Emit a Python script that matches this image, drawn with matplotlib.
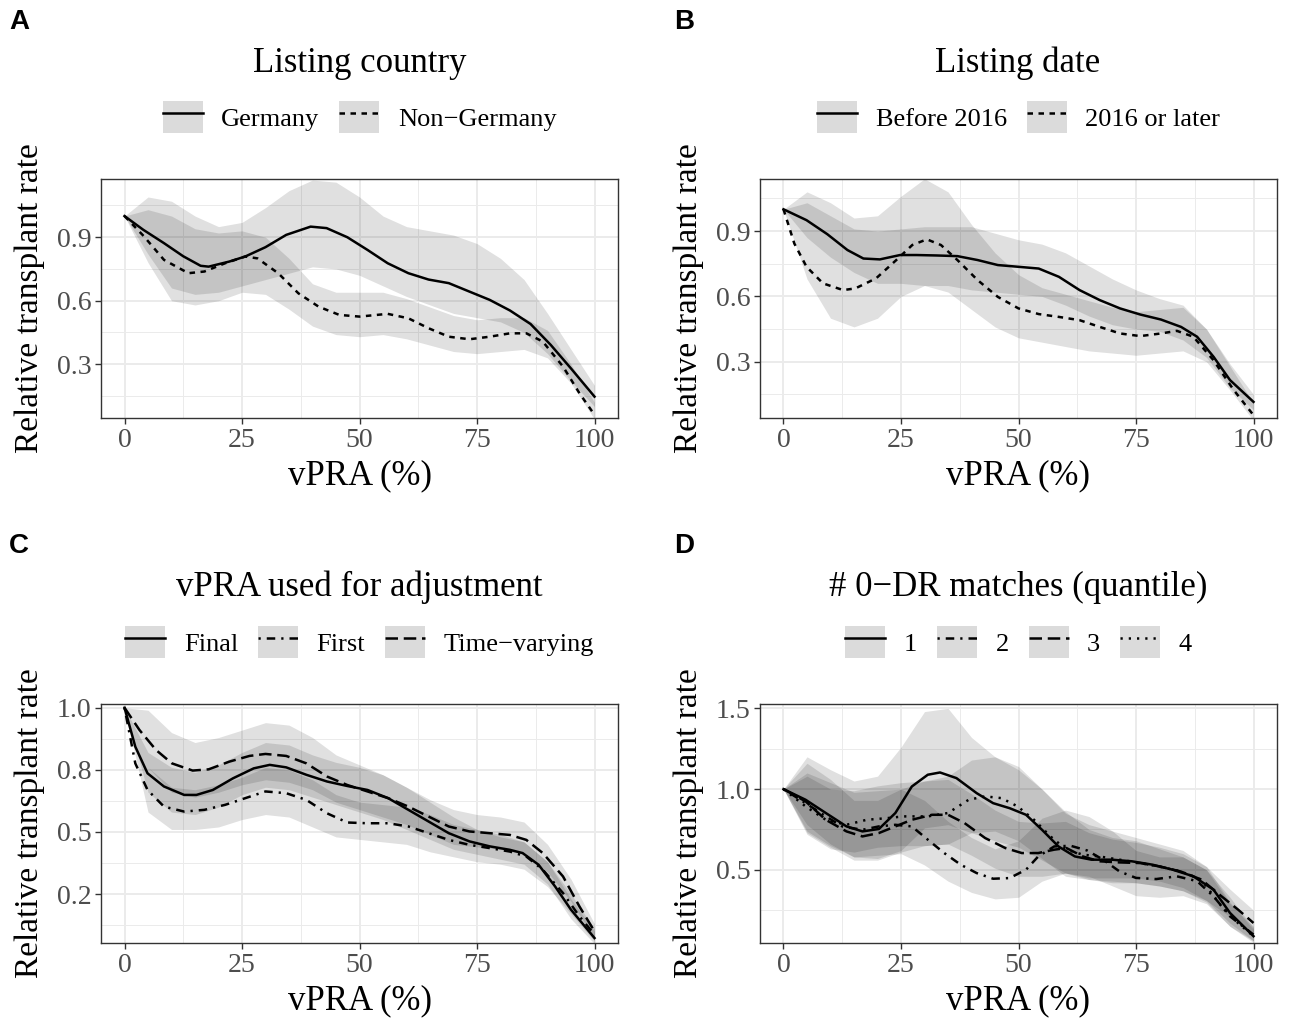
import matplotlib
matplotlib.use('Agg')
import matplotlib.pyplot as plt
from matplotlib.patches import Patch
from matplotlib.lines import Line2D

plt.rcParams['font.family'] = ['Liberation Serif', 'DejaVu Serif']

# ---------------- data ----------------
band_x = [0, 5, 10, 15, 20, 25, 30, 35, 40, 45, 50, 55, 60, 65, 70, 75, 80, 85, 90, 95, 100]

# Panel A: Listing country
ger_x = [0, 4, 8.4, 12.5, 16.2, 17.9, 22.3, 25.7, 30, 34.4, 39.6, 43, 47.4, 51.7, 56, 60.4, 64.7, 69, 73.4, 77.7, 82, 86.4, 90.7, 95, 100]
ger_y = [1.0, 0.935, 0.872, 0.81, 0.765, 0.761, 0.785, 0.809, 0.853, 0.911, 0.95, 0.943, 0.9, 0.84, 0.777, 0.73, 0.70, 0.683, 0.643, 0.604, 0.554, 0.49, 0.391, 0.28, 0.147]
ger_lo = [1.0, 0.82, 0.66, 0.63, 0.64, 0.67, 0.70, 0.73, 0.76, 0.75, 0.72, 0.67, 0.62, 0.58, 0.54, 0.52, 0.50, 0.45, 0.35, 0.22, 0.10]
ger_hi = [1.0, 1.09, 1.07, 1.0, 0.95, 0.97, 1.04, 1.12, 1.17, 1.16, 1.09, 1.0, 0.95, 0.93, 0.91, 0.87, 0.80, 0.70, 0.54, 0.37, 0.20]

nong_x = [0, 4.1, 8.4, 13.6, 17, 21.4, 25.7, 28.3, 32.7, 37, 41.3, 45.7, 50, 56, 60.4, 64.7, 69, 73.4, 77.7, 82, 85.5, 89, 93.3, 96.8, 100]
nong_y = [1.0, 0.905, 0.793, 0.73, 0.738, 0.777, 0.809, 0.80, 0.73, 0.635, 0.572, 0.533, 0.525, 0.538, 0.517, 0.47, 0.43, 0.418, 0.43, 0.446, 0.446, 0.407, 0.289, 0.163, 0.061]
nong_lo = [1.0, 0.78, 0.60, 0.58, 0.60, 0.64, 0.63, 0.56, 0.48, 0.44, 0.43, 0.44, 0.42, 0.39, 0.36, 0.35, 0.36, 0.37, 0.33, 0.21, 0.04]
nong_hi = [1.0, 1.03, 1.0, 0.94, 0.92, 0.93, 0.90, 0.80, 0.68, 0.64, 0.64, 0.64, 0.61, 0.57, 0.53, 0.51, 0.52, 0.52, 0.46, 0.30, 0.12]

# Panel B: Listing date
bef_x = [0, 4.9, 9.3, 13.6, 17, 20.5, 24.8, 28.3, 32.6, 37, 41.3, 45.6, 50, 54.3, 58.6, 63, 67.3, 71.6, 75.9, 80.3, 84.6, 88, 91.5, 95, 100]
bef_y = [1.0, 0.95, 0.886, 0.813, 0.774, 0.77, 0.79, 0.79, 0.788, 0.785, 0.767, 0.744, 0.736, 0.728, 0.69, 0.629, 0.583, 0.545, 0.517, 0.494, 0.46, 0.415, 0.323, 0.216, 0.116]
bef_lo = [1.0, 0.87, 0.78, 0.71, 0.66, 0.66, 0.65, 0.65, 0.63, 0.62, 0.61, 0.60, 0.56, 0.51, 0.47, 0.45, 0.44, 0.40, 0.32, 0.18, 0.08]
bef_hi = [1.0, 1.03, 0.97, 0.91, 0.90, 0.91, 0.92, 0.92, 0.92, 0.89, 0.86, 0.84, 0.80, 0.74, 0.68, 0.63, 0.59, 0.56, 0.45, 0.29, 0.15]

aft_x = [0, 2.3, 4.9, 8.4, 12.7, 15.3, 19.7, 24, 27.4, 30.5, 33.5, 37, 41.3, 45.6, 50, 54.3, 58.6, 63, 67.3, 71.6, 75.9, 80.3, 83.7, 87.2, 91.5, 95.8, 100]
aft_y = [1.0, 0.843, 0.736, 0.66, 0.629, 0.637, 0.683, 0.767, 0.836, 0.862, 0.836, 0.767, 0.675, 0.598, 0.545, 0.519, 0.506, 0.491, 0.46, 0.43, 0.418, 0.43, 0.442, 0.415, 0.307, 0.17, 0.055]
aft_lo = [1.0, 0.68, 0.50, 0.46, 0.50, 0.60, 0.65, 0.62, 0.54, 0.46, 0.41, 0.39, 0.37, 0.35, 0.34, 0.33, 0.34, 0.35, 0.30, 0.17, 0.03]
aft_hi = [1.0, 1.08, 1.03, 0.96, 0.97, 1.06, 1.14, 1.08, 0.93, 0.80, 0.70, 0.64, 0.61, 0.58, 0.55, 0.53, 0.54, 0.55, 0.45, 0.28, 0.11]

# Panel C: vPRA used for adjustment
fin_x = [0, 2.3, 4.9, 8.4, 12.7, 15.3, 18.8, 23.1, 27.5, 30.9, 34.4, 38.7, 43.1, 47.4, 51.7, 56.1, 60.4, 64.7, 69, 73.4, 77.7, 82, 84.7, 88.1, 91.6, 95, 100]
fin_y = [1.0, 0.843, 0.736, 0.683, 0.649, 0.649, 0.669, 0.716, 0.756, 0.77, 0.76, 0.73, 0.703, 0.685, 0.669, 0.636, 0.589, 0.542, 0.495, 0.462, 0.442, 0.428, 0.415, 0.368, 0.281, 0.187, 0.073]
fin_lo = [1.0, 0.66, 0.58, 0.57, 0.60, 0.65, 0.68, 0.67, 0.64, 0.61, 0.58, 0.55, 0.51, 0.47, 0.43, 0.41, 0.39, 0.37, 0.29, 0.15, 0.05]
fin_hi = [1.0, 0.82, 0.76, 0.74, 0.77, 0.82, 0.86, 0.85, 0.81, 0.78, 0.76, 0.73, 0.68, 0.62, 0.56, 0.51, 0.48, 0.46, 0.38, 0.23, 0.10]

fst_x = [0, 2.3, 4.9, 8.4, 12.7, 17, 21.4, 25.7, 30, 34.4, 38.7, 43.1, 47.4, 51.7, 56.1, 60.4, 64.7, 69, 73.4, 77.7, 82, 85.5, 89, 93.3, 96.8, 100]
fst_y = [1.0, 0.776, 0.669, 0.602, 0.582, 0.589, 0.609, 0.636, 0.663, 0.656, 0.629, 0.575, 0.538, 0.535, 0.535, 0.522, 0.495, 0.468, 0.448, 0.435, 0.421, 0.401, 0.348, 0.254, 0.16, 0.087]
fst_lo = [1.0, 0.58, 0.51, 0.51, 0.52, 0.55, 0.57, 0.56, 0.52, 0.48, 0.47, 0.46, 0.45, 0.42, 0.40, 0.38, 0.37, 0.35, 0.28, 0.17, 0.06]
fst_hi = [1.0, 0.76, 0.68, 0.67, 0.69, 0.72, 0.76, 0.75, 0.71, 0.65, 0.62, 0.61, 0.60, 0.57, 0.53, 0.51, 0.49, 0.46, 0.38, 0.25, 0.11]

tv_x = [0, 3.2, 6.7, 10.1, 14.5, 17.9, 22.3, 26.6, 30, 34.4, 38.7, 43.1, 47.4, 51.7, 56.1, 60.4, 64.7, 69, 73.4, 77.7, 82, 85.5, 89, 93.3, 96.8, 100]
tv_y = [1.0, 0.91, 0.83, 0.776, 0.747, 0.752, 0.783, 0.806, 0.814, 0.806, 0.776, 0.723, 0.689, 0.663, 0.636, 0.602, 0.562, 0.522, 0.502, 0.495, 0.488, 0.468, 0.415, 0.321, 0.2, 0.1]
tv_lo = [1.0, 0.76, 0.66, 0.64, 0.66, 0.69, 0.71, 0.70, 0.67, 0.62, 0.59, 0.56, 0.53, 0.49, 0.45, 0.44, 0.43, 0.41, 0.34, 0.22, 0.07]
tv_hi = [1.0, 0.99, 0.90, 0.86, 0.88, 0.91, 0.94, 0.93, 0.88, 0.81, 0.77, 0.73, 0.68, 0.63, 0.59, 0.57, 0.56, 0.54, 0.45, 0.31, 0.13]

# Panel D: # 0-DR matches (quantile)
q1_x = [0, 4.7, 9, 13.4, 16.8, 20.3, 23.8, 27.3, 30.7, 33.3, 36.8, 41.1, 44.6, 48.1, 51.6, 55, 58.5, 62, 65.5, 69.8, 74.1, 78.5, 82.8, 87.2, 91.5, 95, 100]
q1_y = [1.0, 0.934, 0.852, 0.769, 0.738, 0.753, 0.852, 1.016, 1.089, 1.103, 1.068, 0.975, 0.913, 0.882, 0.841, 0.748, 0.645, 0.583, 0.563, 0.563, 0.553, 0.532, 0.501, 0.46, 0.377, 0.233, 0.089]
q1_lo = [1.0, 0.78, 0.66, 0.58, 0.57, 0.62, 0.76, 0.78, 0.73, 0.68, 0.64, 0.56, 0.48, 0.45, 0.45, 0.45, 0.43, 0.39, 0.31, 0.17, 0.06]
q1_hi = [1.0, 1.20, 1.12, 1.05, 1.08, 1.26, 1.48, 1.50, 1.32, 1.20, 1.12, 1.0, 0.86, 0.75, 0.70, 0.68, 0.63, 0.58, 0.50, 0.33, 0.14]

q2_x = [0, 4.7, 9, 12.5, 16.8, 20.3, 23.8, 27.3, 30.7, 34.2, 37.7, 41.1, 44.6, 48.1, 51.6, 54.2, 57.6, 61.1, 64.6, 68, 71.5, 75, 79.3, 83.7, 88, 91.5, 95, 100]
q2_y = [1.0, 0.913, 0.831, 0.769, 0.748, 0.769, 0.779, 0.769, 0.687, 0.604, 0.532, 0.48, 0.445, 0.449, 0.501, 0.583, 0.645, 0.649, 0.62, 0.563, 0.49, 0.45, 0.443, 0.46, 0.43, 0.336, 0.212, 0.099]
q2_lo = [1.0, 0.74, 0.65, 0.58, 0.59, 0.60, 0.53, 0.43, 0.36, 0.32, 0.33, 0.43, 0.48, 0.46, 0.40, 0.34, 0.33, 0.34, 0.29, 0.15, 0.06]
q2_hi = [1.0, 1.10, 1.04, 0.98, 0.99, 1.0, 0.93, 0.80, 0.70, 0.63, 0.68, 0.82, 0.87, 0.83, 0.74, 0.62, 0.58, 0.58, 0.50, 0.29, 0.15]

q3_x = [0, 4.7, 9, 13.4, 16.8, 20.3, 23.8, 27.3, 31.6, 35, 38.5, 42.9, 47.2, 50.7, 54.2, 57.6, 60.2, 63.7, 67.2, 71.5, 75.9, 80.2, 84.5, 88.9, 93.2, 96.7, 100]
q3_y = [1.0, 0.924, 0.81, 0.738, 0.707, 0.728, 0.769, 0.81, 0.841, 0.841, 0.79, 0.697, 0.635, 0.604, 0.604, 0.625, 0.635, 0.583, 0.553, 0.546, 0.542, 0.52, 0.49, 0.44, 0.336, 0.254, 0.171]
q3_lo = [1.0, 0.73, 0.64, 0.56, 0.56, 0.61, 0.65, 0.66, 0.59, 0.51, 0.46, 0.46, 0.48, 0.44, 0.42, 0.42, 0.40, 0.37, 0.31, 0.21, 0.11]
q3_hi = [1.0, 1.16, 1.06, 0.93, 0.93, 1.0, 1.05, 1.06, 0.97, 0.87, 0.80, 0.79, 0.80, 0.73, 0.69, 0.67, 0.64, 0.60, 0.52, 0.38, 0.25]

q4_x = [0, 4.7, 9, 13.4, 17.7, 22, 25.5, 30.7, 35, 39.4, 42.9, 46.4, 49.8, 53.3, 56.8, 60.2, 63.7, 67.2, 71.5, 75.9, 80.2, 84.5, 88.9, 93.2, 96.7, 100]
q4_y = [1.0, 0.893, 0.81, 0.779, 0.81, 0.82, 0.831, 0.831, 0.852, 0.934, 0.955, 0.944, 0.893, 0.81, 0.707, 0.625, 0.594, 0.583, 0.563, 0.542, 0.518, 0.491, 0.439, 0.274, 0.171, 0.089]
q4_lo = [1.0, 0.72, 0.63, 0.61, 0.64, 0.65, 0.65, 0.66, 0.73, 0.74, 0.68, 0.57, 0.46, 0.44, 0.43, 0.42, 0.40, 0.37, 0.30, 0.15, 0.05]
q4_hi = [1.0, 1.08, 1.0, 0.99, 1.02, 1.04, 1.05, 1.08, 1.18, 1.20, 1.14, 1.0, 0.85, 0.78, 0.74, 0.70, 0.66, 0.62, 0.52, 0.30, 0.13]

x_ticks = [0, 25, 50, 75, 100]
x_minor = [12.5, 37.5, 62.5, 87.5]

# ---------------- styles ----------------
SOLID = '-'
DASHED = (0, (2.2, 2.2))
DOTDASH = (0, (0.9, 2.4, 3.4, 2.4))
LONGDASH = (0, (5.0, 2.3))
DOTTED = (0, (0.9, 2.4))

LW = 1.8
BAND_ALPHA = 0.12
GRID = '#EBEBEB'
BORDER = '#333333'
TICKC = '#4D4D4D'

W, H = 1291, 1019
fig = plt.figure(figsize=(W / 100, H / 100), dpi=100)
fig.patch.set_facecolor('white')


def make_axes(left_px, top_px):
    aw, ah = 517, 239
    return fig.add_axes([left_px / W, 1 - (top_px + ah) / H, aw / W, ah / H])


def style(ax, ylim, yticks, ylabels, yminor):
    ax.set_xlim(-5, 105)
    ax.set_ylim(*ylim)
    ax.set_xticks(x_ticks)
    ax.set_xticklabels([str(v) for v in x_ticks])
    ax.set_xticks(x_minor, minor=True)
    ax.set_yticks(yticks)
    ax.set_yticklabels(ylabels)
    ax.set_yticks(yminor, minor=True)
    ax.set_axisbelow(True)
    ax.grid(True, which='major', color=GRID, lw=1.4)
    ax.grid(True, which='minor', color=GRID, lw=0.7)
    for s in ax.spines.values():
        s.set_color(BORDER)
        s.set_linewidth(1.0)
    ax.tick_params(which='major', length=4, width=1.0, color=BORDER,
                   labelsize=20, labelcolor=TICKC, pad=3)
    ax.tick_params(which='minor', length=0)
    ax.text(0.5, -0.24, 'vPRA (%)', transform=ax.transAxes, ha='center',
            va='center', fontsize=25)
    ax.text(-0.137, 0.5, 'Relative transplant rate', transform=ax.transAxes,
            ha='center', va='center', rotation=90, fontsize=24)


def draw(ax, series, title, cx_px, ty_px, letter, lx_px):
    handles, labels = [], []
    for (xs, ys, lo, hi, ls, lab) in series:
        ax.fill_between(band_x, lo, hi, color='black', alpha=BAND_ALPHA, lw=0)
    for (xs, ys, lo, hi, ls, lab) in series:
        ax.plot(xs, ys, color='black', lw=LW, linestyle=ls)
        handles.append((Patch(facecolor='#DBDBDB', edgecolor='none'),
                        Line2D([], [], color='black', lw=LW, linestyle=ls)))
        labels.append(lab)
    ax.legend(handles, labels, loc='center', bbox_to_anchor=(0.5, 1.26),
              ncol=len(labels), frameon=False, fontsize=19,
              handlelength=1.52, handleheight=1.45, handletextpad=0.7,
              columnspacing=0.75, borderpad=0, borderaxespad=0)
    fig.text(cx_px / W, 1 - ty_px / H, title, ha='center', va='center',
             fontsize=25)
    fig.text(lx_px / W, 1 - (ty_px - 41) / H, letter, ha='center', va='center',
             fontsize=20, fontweight='bold', family=['Liberation Sans', 'DejaVu Sans'])


# Panel A
axA = make_axes(101, 179)
style(axA, (0.046, 1.175), [0.3, 0.6, 0.9], ['0.3', '0.6', '0.9'],
      [0.15, 0.45, 0.75, 1.05])
draw(axA, [(ger_x, ger_y, ger_lo, ger_hi, SOLID, 'Germany'),
           (nong_x, nong_y, nong_lo, nong_hi, DASHED, 'Non\u2212Germany')],
     'Listing country', 359.5, 63, 'A', 19)

# Panel B
axB = make_axes(760, 179)
style(axB, (0.042, 1.139), [0.3, 0.6, 0.9], ['0.3', '0.6', '0.9'],
      [0.15, 0.45, 0.75, 1.05])
draw(axB, [(bef_x, bef_y, bef_lo, bef_hi, SOLID, 'Before 2016'),
           (aft_x, aft_y, aft_lo, aft_hi, DASHED, '2016 or later')],
     'Listing date', 1018, 63, 'B', 684)

# Panel C
axC = make_axes(101, 704)
style(axC, (0.053, 1.015), [0.25, 0.5, 0.75, 1.0], ['0.2', '0.5', '0.8', '1.0'],
      [0.125, 0.375, 0.625, 0.875])
draw(axC, [(fin_x, fin_y, fin_lo, fin_hi, SOLID, 'Final'),
           (fst_x, fst_y, fst_lo, fst_hi, DOTDASH, 'First'),
           (tv_x, tv_y, tv_lo, tv_hi, LONGDASH, 'Time\u2212varying')],
     'vPRA used for adjustment', 359.5, 587, 'C', 19)

# Panel D
axD = make_axes(760, 704)
style(axD, (0.047, 1.527), [0.5, 1.0, 1.5], ['0.5', '1.0', '1.5'],
      [0.25, 0.75, 1.25])
draw(axD, [(q1_x, q1_y, q1_lo, q1_hi, SOLID, '1'),
           (q2_x, q2_y, q2_lo, q2_hi, DOTDASH, '2'),
           (q3_x, q3_y, q3_lo, q3_hi, LONGDASH, '3'),
           (q4_x, q4_y, q4_lo, q4_hi, DOTTED, '4')],
     '# 0\u2212DR matches (quantile)', 1018, 587, 'D', 684)

fig.savefig('out.png', dpi=100, facecolor='white')
